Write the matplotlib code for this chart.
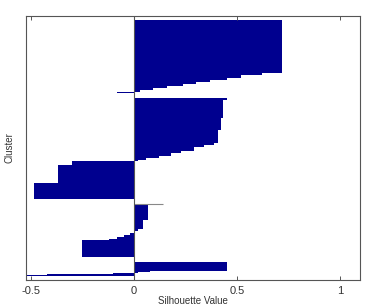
import numpy as np
import matplotlib
matplotlib.use('Agg')
import matplotlib.pyplot as plt

# silhouette values per cluster, sorted, stored as (value, number of rows)
c1_values = [0.72, 0.62, 0.52, 0.45, 0.37, 0.30, 0.24, 0.16, 0.09, 0.03, -0.08]
c1_counts = [53, 2, 3, 2, 2, 2, 2, 2, 2, 2, 1]

c2_values = [0.45, 0.43, 0.42, 0.41, 0.39, 0.34, 0.29, 0.23, 0.18, 0.12, 0.06, 0.02,
             -0.30, -0.37, -0.485]
c2_counts = [2, 18, 12, 13, 2, 2, 3, 2, 3, 2, 2, 1, 4, 18, 16]

c3_values = [0.07, 0.045, 0.02, 0.005, -0.02, -0.05, -0.08, -0.12, -0.25]
c3_counts = [16, 9, 2, 2, 2, 2, 2, 1, 17]
c3_top_line = 0.14

c4_values = [0.45, 0.08, 0.02, -0.10, -0.42, -0.52]
c4_counts = [9, 1, 1, 1, 1, 1]

xticks = [-0.5, 0, 0.5, 1]
xticklabels = ['-0.5', '0', '0.5', '1']

bar_color = '#00008F'
axis_color = '#555555'

plt.rcParams['font.family'] = ['Liberation Sans', 'DejaVu Sans']

fig = plt.figure(figsize=(3.66, 3.06), dpi=100)
ax = fig.add_axes([26 / 366, 1 - 280 / 306, 334 / 366, 264 / 306])

clusters = [(c1_values, c1_counts), (c2_values, c2_counts),
            (c3_values, c3_counts), (c4_values, c4_counts)]

start = 4
gap = 5
starts = []
for values, counts in clusters:
    counts = np.array(counts)
    tops = start + np.concatenate([[0], np.cumsum(counts)[:-1]])
    ax.barh(tops, values, height=counts, align='edge', color=bar_color,
            edgecolor='none', linewidth=0, antialiased=False)
    starts.append(start)
    start += counts.sum() + gap

# thin grey bar on top of the third cluster
ax.hlines(starts[2], 0, c3_top_line, color='#888888', linewidth=0.8)

ax.axvline(0, color=axis_color, linewidth=0.8)

ax.set_ylim(263, 0)
ax.set_xlim(-0.524, 1.097)
ax.set_xticks(xticks)
ax.set_xticklabels(xticklabels)
ax.set_yticks([])
ax.tick_params(axis='x', direction='in', top=True, length=3, width=0.7,
               colors=axis_color, labelsize=8, labelcolor='#333333', pad=4)
for s in ax.spines.values():
    s.set_color(axis_color)
    s.set_linewidth(0.8)

ax.set_xlabel('Silhouette Value', fontsize=7, color='#333333', labelpad=0)
ax.set_ylabel('Cluster', fontsize=7, color='#333333', labelpad=8)

fig.savefig('out.png', dpi=100)
